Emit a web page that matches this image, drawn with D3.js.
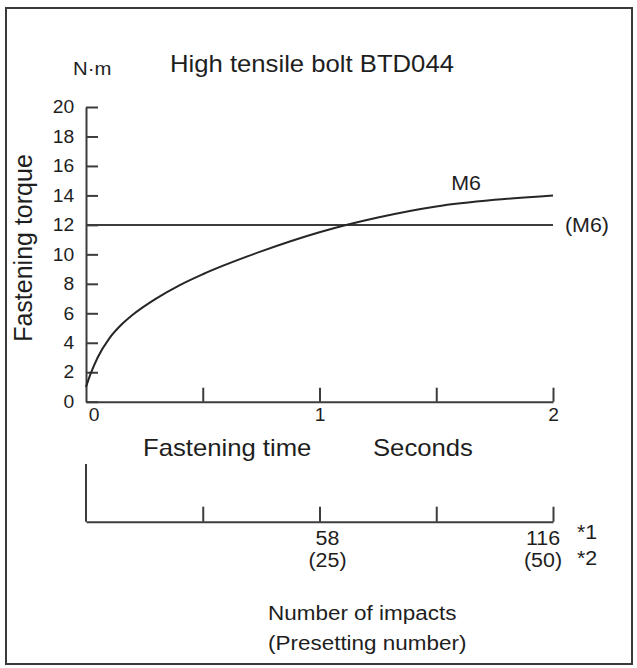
<!DOCTYPE html>
<html>
<head>
<meta charset="utf-8">
<script src="https://cdn.jsdelivr.net/npm/d3@7"></script>
<style>
  body { margin: 0; background: #fff; }
  text { font-family: "Liberation Sans", Arial, sans-serif; fill: #1e1e1e; }
</style>
</head>
<body>
<div id="content"></div>
<script>
// data
const times = [0, 0.02, 0.05, 0.1, 0.15, 0.2, 0.3, 0.4, 0.5, 0.75, 1.0, 1.25, 1.5, 1.75, 2.0];
const torqueM6 = [1.0, 1.9, 3.0, 4.3, 5.2, 5.9, 7.0, 7.9, 8.65, 10.2, 11.5, 12.5, 13.25, 13.7, 14.0];
const presetTorque = 12;
const torqueTicks = [0, 2, 4, 6, 8, 10, 12, 14, 16, 18, 20];
const timeTicks = [0, 0.5, 1, 1.5, 2];
const impactTicks = [0, 29, 58, 87, 116];
const impactLabels = [58, 116];
const presetLabels = [25, 50];

const W = 637, H = 668;
const SX = 1.07; // source glyphs are a little wide

const svg = d3.select('#content').append('svg').attr('width', W).attr('height', H);

svg.append('rect')
  .attr('x', 6).attr('y', 8).attr('width', 626).attr('height', 656)
  .attr('fill', 'none').attr('stroke', '#3a3a3a').attr('stroke-width', 2);

const x = d3.scaleLinear().domain([0, 2]).range([86, 553]);
const y = d3.scaleLinear().domain([0, 20]).range([401.7, 107]);
const xi = d3.scaleLinear().domain([0, 116]).range([86, 553]);
const lowerY = 521.7;

const txt = (px, py, s, size, anchor) => svg.append('text')
  .attr('transform', `translate(${px},${py}) scale(${SX},1)`)
  .attr('text-anchor', anchor || 'start')
  .style('font-size', size + 'px')
  .text(s);

const styleAxis = g => {
  g.selectAll('path, line').attr('stroke', '#3c3c3c').attr('stroke-width', 2);
  g.selectAll('text').style('font-size', '18px')
    .style('font-family', '"Liberation Sans", Arial, sans-serif').attr('fill', '#1e1e1e');
};

// y axis
const yAxis = svg.append('g').attr('transform', `translate(${x(0)},0)`)
  .call(d3.axisLeft(y).tickValues(torqueTicks).tickSize(-12).tickSizeOuter(0).tickPadding(12))
  .call(styleAxis);
yAxis.selectAll('.tick text').attr('transform', `scale(${SX},1)`).attr('x', -11);

// x axis (time)
const xAxis = svg.append('g').attr('transform', `translate(0,${y(0)})`)
  .call(d3.axisBottom(x).tickValues(timeTicks).tickSize(-14).tickSizeOuter(0).tickPadding(7)
    .tickFormat(d => Number.isInteger(d) ? d : ''))
  .call(styleAxis);
xAxis.selectAll('.tick text').attr('transform', `scale(${SX},1)`)
  .attr('x', d => d === 0 ? 7 : 0);
xAxis.selectAll('.tick').filter(d => d === 0).select('line').remove();

// preset torque line
svg.append('line')
  .attr('x1', x(0)).attr('x2', x(2)).attr('y1', y(presetTorque)).attr('y2', y(presetTorque))
  .attr('stroke', '#3c3c3c').attr('stroke-width', 2);

// torque curve
const line = d3.line().x((d, i) => x(times[i])).y(d => y(d)).curve(d3.curveMonotoneX);
svg.append('path').datum(torqueM6)
  .attr('d', line).attr('fill', 'none').attr('stroke', '#262626').attr('stroke-width', 2);

// lower axis (impacts)
svg.append('line')
  .attr('x1', xi(0)).attr('x2', xi(0)).attr('y1', 464).attr('y2', lowerY)
  .attr('stroke', '#3c3c3c').attr('stroke-width', 2);
const iAxis = svg.append('g').attr('transform', `translate(0,${lowerY})`)
  .call(d3.axisBottom(xi).tickValues(impactTicks).tickSize(-15).tickSizeOuter(0).tickFormat(''))
  .call(styleAxis);
iAxis.selectAll('.tick').filter(d => d === 0).select('line').remove();

impactLabels.forEach((v, i) => {
  const dx = v === 116 ? -10 : 8;
  txt(xi(v) + dx, 545, String(v), 20, 'middle');
  txt(xi(v) + dx, 567, `(${presetLabels[i]})`, 20, 'middle');
});
txt(577, 539, '*1', 20);
txt(577, 565, '*2', 20);

// titles and labels
txt(170, 72, 'High tensile bolt BTD044', 24);
txt(73, 75, 'N\u00b7m', 19);
svg.append('text')
  .attr('transform', `translate(32,248) rotate(-90)`)
  .attr('text-anchor', 'middle')
  .style('font-size', '25px')
  .text('Fastening torque');
txt(143, 456, 'Fastening time', 24);
txt(373, 456, 'Seconds', 24);
txt(466, 190, 'M6', 20, 'middle');
txt(565, 232, '(M6)', 20);
txt(268, 620, 'Number of impacts', 21);
txt(268, 650, '(Presetting number)', 21);
</script>
</body>
</html>
